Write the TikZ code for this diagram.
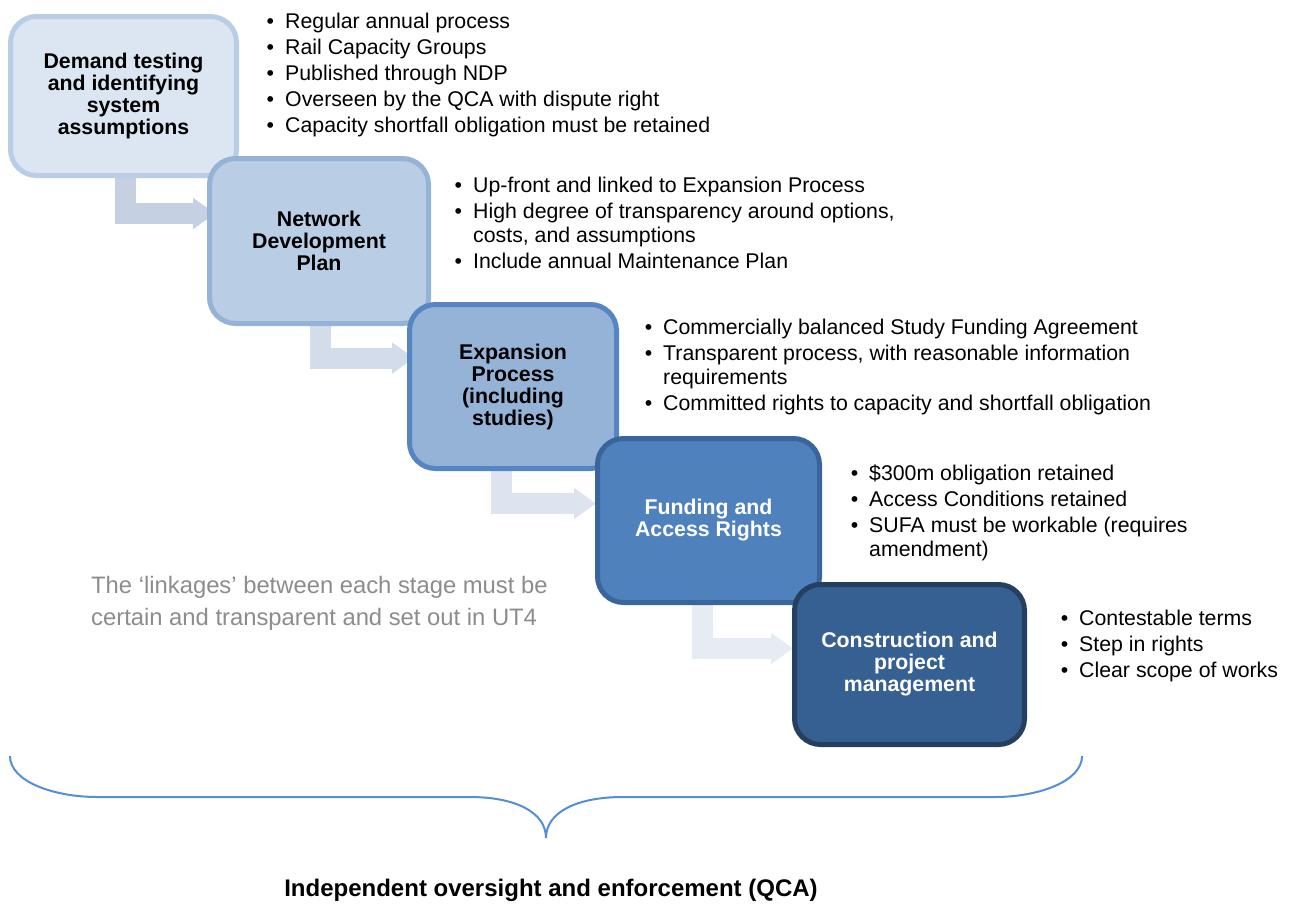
\documentclass[tikz,border=0pt]{standalone}
\usepackage{fontspec}
\setmainfont{Liberation Sans}
\usetikzlibrary{arrows.meta,calc}
\pgfdeclarelayer{background}
\pgfsetlayers{background,main}
\definecolor{fA}{HTML}{DCE6F2}\definecolor{dA}{HTML}{B9CDE5}
\definecolor{fB}{HTML}{B9CDE5}\definecolor{dB}{HTML}{95B3D7}
\definecolor{fC}{HTML}{95B3D7}\definecolor{dC}{HTML}{5585C2}
\definecolor{fD}{HTML}{4F81BD}\definecolor{dD}{HTML}{3A659C}
\definecolor{fE}{HTML}{376092}\definecolor{dE}{HTML}{253F60}
\definecolor{aA}{HTML}{C5D0E3}\definecolor{aB}{HTML}{D3DCEA}
\definecolor{aC}{HTML}{DDE4EF}\definecolor{aD}{HTML}{E7ECF4}
\definecolor{bracec}{HTML}{558ED5}
\definecolor{linkgray}{HTML}{8C8C8C}
\newcommand{\bitem}[1]{\llap{\textbullet\hspace{11pt}}#1}
\newcommand{\blist}[1]{\begin{tabular}[t]{@{}l@{}}#1\end{tabular}}
\begin{document}
\begin{tikzpicture}[x=1pt,y=-1pt,
  stage/.style={draw, rounded corners=26pt, line width=5pt, align=center, inner sep=0pt,
    font=\bfseries\fontsize{21.3}{22}\selectfont},
  bullets/.style={anchor=base west, inner sep=0pt, font=\fontsize{21.3}{23.5}\selectfont},
  flow/.style={line width=21pt, -{Triangle[length=22pt,width=30pt]}},
]
\useasboundingbox (0,0) rectangle (1290,903);
% stage boxes
\node[stage, fill=fA, draw=dA, minimum width=226pt, minimum height=159pt] (b1) at (123.5,96)
  {Demand testing\\and identifying\\system\\assumptions};
\node[stage, fill=fB, draw=dB, minimum width=219pt, minimum height=165pt] (b2) at (319,241)
  {Network\\Development\\Plan};
\node[stage, fill=fC, draw=dC, minimum width=207pt, minimum height=164pt] (b3) at (513,386.5)
  {Expansion\\Process\\(including\\studies)};
\node[stage, fill=fD, draw=dD, text=white, minimum width=222pt, minimum height=164pt] (b4) at (708.5,520.5)
  {Funding and\\Access Rights};
\node[stage, fill=fE, draw=dE, text=white, minimum width=230pt, minimum height=160pt] (b5) at (909.5,664.5)
  {Construction and\\project\\management};
% bent arrows behind the boxes
\begin{pgfonlayer}{background}
\draw[flow, color=aA] ([xshift=117.5pt,yshift=8pt]b1.south west) |- ([xshift=8pt,yshift=27.5pt]b2.west);
\draw[flow, color=aB] ([xshift=113.5pt,yshift=8pt]b2.south west) |- ([xshift=7pt,yshift=28.5pt]b3.west);
\draw[flow, color=aC] ([xshift=94pt,yshift=8pt]b3.south west) |- ([xshift=1pt,yshift=17pt]b4.west);
\draw[flow, color=aD] ([xshift=107.5pt,yshift=8pt]b4.south west) |- ([xshift=1pt,yshift=16pt]b5.west);
\end{pgfonlayer}
% bullet lists
\node[bullets] (l1) at (285,28.5) {\blist{
  \bitem{Regular annual process}\\[2.5pt]
  \bitem{Rail Capacity Groups}\\[2.5pt]
  \bitem{Published through NDP}\\[2.5pt]
  \bitem{Overseen by the QCA with dispute right}\\[2.5pt]
  \bitem{Capacity shortfall obligation must be retained}}};
\node[bullets] (l2) at (473,192.5) {\blist{
  \bitem{Up-front and linked to Expansion Process}\\[2.5pt]
  \bitem{High degree of transparency around options,}\\
  costs, and assumptions\\[2.5pt]
  \bitem{Include annual Maintenance Plan}}};
\node[bullets] (l3) at (663,334.5) {\blist{
  \bitem{Commercially balanced Study Funding Agreement}\\[2.5pt]
  \bitem{Transparent process, with reasonable information}\\
  requirements\\[2.5pt]
  \bitem{Committed rights to capacity and shortfall obligation}}};
\node[bullets] (l4) at (869,480.5) {\blist{
  \bitem{\$300m obligation retained}\\[2.5pt]
  \bitem{Access Conditions retained}\\[2.5pt]
  \bitem{SUFA must be workable (requires}\\
  amendment)}};
\node[bullets] (l5) at (1079,625.5) {\blist{
  \bitem{Contestable terms}\\[2.5pt]
  \bitem{Step in rights}\\[2.5pt]
  \bitem{Clear scope of works}}};
% linkage note
\node[anchor=base west, inner sep=0pt, text=linkgray, font=\fontsize{23.8}{32}\selectfont] (note) at (91,593.5)
  {\begin{tabular}[t]{@{}l@{}}The ‘linkages’ between each stage must be\\certain and transparent and set out in UT4\end{tabular}};
% brace
\draw[bracec, line width=2pt] (10,756) .. controls (10,782) and (55,797) .. (97,797) -- (470,797)
  .. controls (515,797) and (546,812) .. (546,838)
  .. controls (546,812) and (577,797) .. (623,797) -- (995,797)
  .. controls (1037,797) and (1082,782) .. (1082,756);
\node[inner sep=0pt, font=\bfseries\fontsize{24}{28}\selectfont] (qca) at (551,890)
  {Independent oversight and enforcement (QCA)};
\end{tikzpicture}
\end{document}
